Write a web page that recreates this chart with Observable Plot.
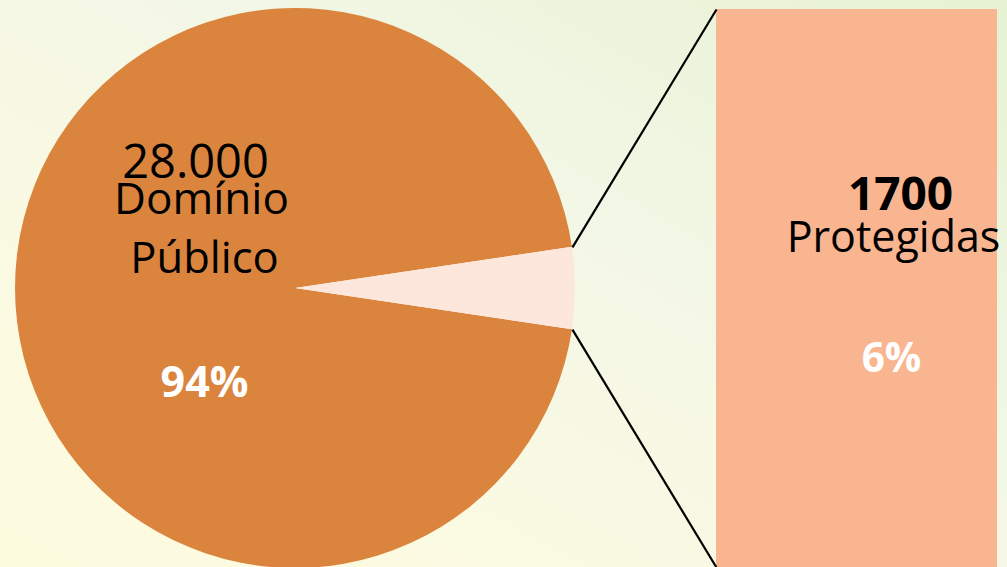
<!DOCTYPE html>
<html><head><meta charset="utf-8">
<script src="https://cdn.jsdelivr.net/npm/d3@7"></script>
<script src="https://cdn.jsdelivr.net/npm/@observablehq/plot@0.6"></script>
<style>
html,body{margin:0;padding:0;width:1007px;height:567px;overflow:hidden;
background:linear-gradient(to bottom left,#E7F2D3 0%,#F3F7E6 40%,#FBFAE2 75%,#FDFBDE 100%);}
#chart svg{display:block;background:transparent;}
</style></head><body><div id="chart"></div>
<script>
// ---- data ----
const categories = ["Domínio Público", "Protegidas"];
const countLabels = ["28.000", "1700"];
const percentLabels = ["94%", "6%"];
const pieShare = [95.3, 4.7];           // slice sizes as drawn (angle measured)
const sliceColors = ["#DB843E", "#FDE6DC"];
const barColor = "#F9B590";

// ---- layout ----
const W = 1007, H = 567;
const cx = 295, cy = 288, R = 280;
const bar = {x1: 716, x2: 997, y1: 9, y2: 580};

const total = d3.sum(pieShare);
const a = 2 * Math.PI * pieShare[1] / total;
const start = Math.PI / 2 + a / 2;
const arcs = d3.pie().sort(null).startAngle(start).endAngle(start + 2 * Math.PI)(pieShare);

function pieMark(index, scales) {
  const g = d3.create("svg:g")
    .attr("transform", `translate(${scales.x(cx)},${scales.y(cy)})`);
  const rr = scales.x(cx + R) - scales.x(cx);
  const arc = d3.arc().innerRadius(0).outerRadius(rr);
  g.selectAll("path").data(arcs).join("path")
    .attr("d", arc)
    .attr("fill", (d, i) => sliceColors[i]);
  return g.node();
}

const edgeX = cx + R * Math.cos(a / 2);
const links = [
  {x1: edgeX, y1: cy - R * Math.sin(a / 2), x2: bar.x1, y2: bar.y1},
  {x1: edgeX, y1: cy + R * Math.sin(a / 2), x2: bar.x1, y2: H}
];

const labels = [
  {x: 195, y: 177, text: countLabels[0], size: 47, weight: 400, fill: "#000"},
  {x: 201, y: 213, text: categories[0].split(" ")[0], size: 44, weight: 400, fill: "#000"},
  {x: 204, y: 272, text: categories[0].split(" ")[1], size: 43.5, weight: 400, fill: "#000"},
  {x: 204, y: 396, text: percentLabels[0], size: 43, weight: 700, fill: "#fff"},
  {x: 900, y: 209, text: countLabels[1], size: 46, weight: 700, fill: "#000"},
  {x: 893, y: 251, text: categories[1], size: 43, weight: 400, fill: "#000"},
  {x: 891, y: 371, text: percentLabels[1], size: 40.5, weight: 700, fill: "#fff"}
];

const textMarks = labels.map(l => Plot.text([l], {
  x: "x", y: "y", text: "text", fill: l.fill, fontSize: l.size, fontWeight: l.weight,
  fontFamily: "Open Sans", lineAnchor: "bottom", textAnchor: "middle"
}));

const chart = Plot.plot({
  width: W, height: H,
  margin: 0,
  x: {domain: [0, W], range: [0, W], axis: null},
  y: {domain: [0, H], range: [0, H], axis: null},
  style: {background: "transparent", overflow: "hidden"},
  marks: [
    Plot.rect([bar], {x1: "x1", x2: "x2", y1: "y1", y2: "y2", fill: barColor}),
    pieMark,
    Plot.link(links, {x1: "x1", y1: "y1", x2: "x2", y2: "y2", stroke: "#000", strokeWidth: 2.2}),
    ...textMarks
  ]
});
document.getElementById("chart").appendChild(chart);
</script></body></html>
